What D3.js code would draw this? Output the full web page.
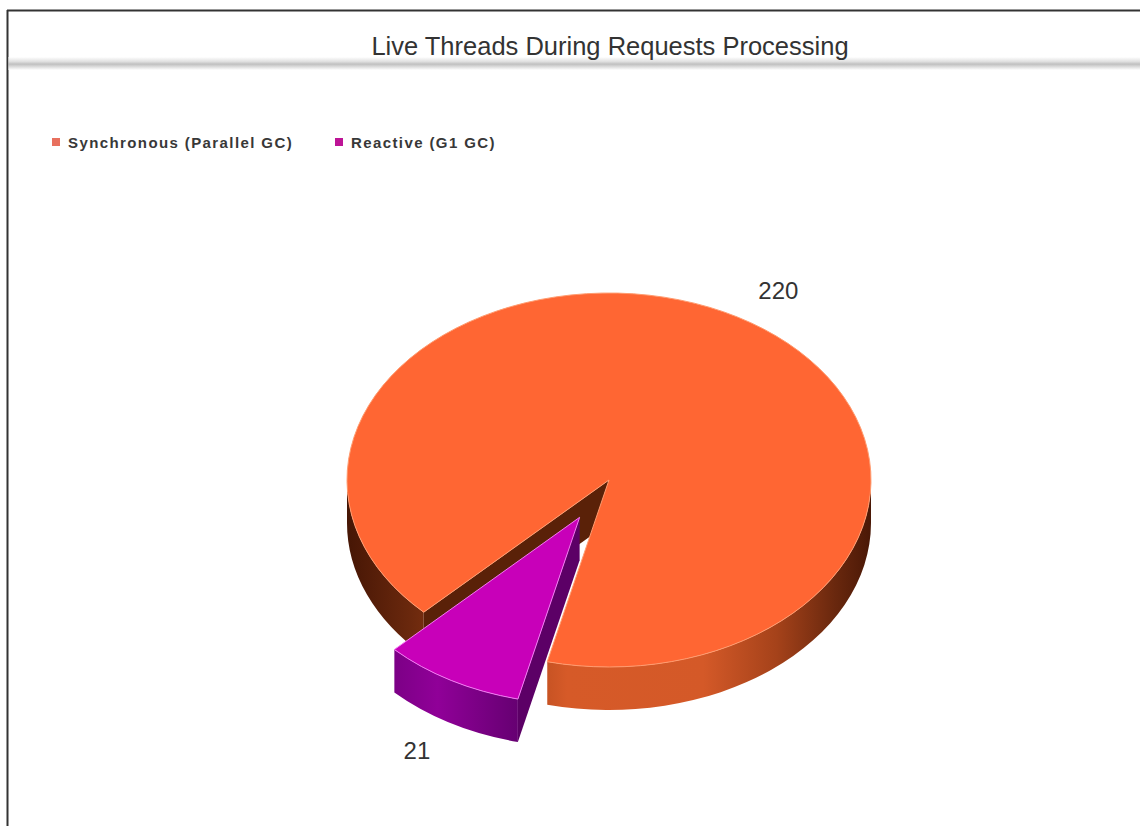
<!DOCTYPE html>
<html>
<head>
<meta charset="utf-8">
<script src="https://cdn.jsdelivr.net/npm/d3@7"></script>
<style>
  html, body { margin: 0; padding: 0; background: #fff; }
  svg { display: block; }
</style>
</head>
<body>
<svg id="chart" width="1140" height="826"></svg>
<script>
// ---- data ----
const chartTitle = "Live Threads During Requests Processing";
const categories = ["Synchronous (Parallel GC)", "Reactive (G1 GC)"];
const values = [220, 21];
const valueLabels = ["220", "21"];

// ---- styling ----
const topColors = ["#ff6633", "#c800b9"];
const edgeColors = ["#ff9c70", "#f27af2"];
const wallColors = ["#5a2108", "#5c0066"];
const legendColors = ["#e8705e", "#bd1496"];
const explodeBy = [0, 60];           // radial offset of each slice (unflattened px)

const W = 1140, H = 826;
const cx = 609, cy = 480, rx = 262, ry = 187, depth = 43;
const k = ry / rx;
const labelR = 305;
const deg = Math.PI / 180;

const svg = d3.select("#chart");
const defs = svg.append("defs");

// frame
svg.append("line").attr("x1", 7.5).attr("y1", 10).attr("x2", 7.5).attr("y2", H)
  .attr("stroke", "#333").attr("stroke-width", 2);
svg.append("line").attr("x1", 7).attr("y1", 10.5).attr("x2", W).attr("y2", 10.5)
  .attr("stroke", "#333").attr("stroke-width", 2);

// shaded rule under the title
const rule = defs.append("linearGradient").attr("id", "rule")
  .attr("x1", 0).attr("y1", 0).attr("x2", 0).attr("y2", 1);
[[0, "#ffffff"], [0.35, "#e0e0e0"], [0.55, "#c0c0c0"], [0.75, "#dcdcdc"], [1, "#ffffff"]]
  .forEach(([o, c]) => rule.append("stop").attr("offset", o).attr("stop-color", c));
svg.append("rect").attr("x", 8.5).attr("y", 57).attr("width", W - 8.5).attr("height", 13)
  .attr("fill", "url(#rule)");

// title
svg.append("text")
  .attr("x", 610).attr("y", 55)
  .attr("text-anchor", "middle")
  .attr("font-family", "Liberation Sans, Arial, sans-serif")
  .attr("font-size", 25.5)
  .attr("fill", "#333")
  .text(chartTitle);

// legend
const legendX = [52, 335];
const legend = svg.append("g");
categories.forEach((c, i) => {
  legend.append("rect").attr("x", legendX[i]).attr("y", 138).attr("width", 8).attr("height", 8)
    .attr("fill", legendColors[i]);
  legend.append("text").attr("x", legendX[i] + 16).attr("y", 142)
    .attr("dominant-baseline", "central")
    .attr("font-family", "Liberation Sans, Arial, sans-serif")
    .attr("font-weight", "bold")
    .attr("font-size", 15)
    .attr("letter-spacing", 1.4)
    .attr("fill", "#383838")
    .text(c);
});

// side shading gradients
const sideOrange = defs.append("linearGradient").attr("id", "side0")
  .attr("gradientUnits", "userSpaceOnUse")
  .attr("x1", cx - rx).attr("y1", 0).attr("x2", cx + rx).attr("y2", 0);
[[0, "#461605"], [0.12, "#6a280d"], [0.3, "#a8441a"], [0.42, "#d65a28"], [0.68, "#d45928"],
 [0.82, "#a5421a"], [0.93, "#6a280e"], [1, "#4a1806"]]
  .forEach(([o, c]) => sideOrange.append("stop").attr("offset", o).attr("stop-color", c));
const sideMagenta = defs.append("linearGradient").attr("id", "side1")
  .attr("x1", 0).attr("y1", 0).attr("x2", 1).attr("y2", 0);
[[0, "#7c0086"], [0.35, "#900098"], [1, "#660072"]]
  .forEach(([o, c]) => sideMagenta.append("stop").attr("offset", o).attr("stop-color", c));

// ---- 3D pie ----
const pie = d3.pie().sort(null).value(d => d)
  .startAngle(225 * deg).endAngle(585 * deg);
const arcs = pie(values);

// point on the (flattened) rim for a d3 pie angle, 0 = 12 o'clock, clockwise
const pt = (a, r, ox, oy, dz = 0) => [ox + r * Math.sin(a), oy - r * Math.cos(a) * k + dz];

function topPath(a0, a1, ox, oy) {
  const p0 = pt(a0, rx, ox, oy), p1 = pt(a1, rx, ox, oy);
  const large = (a1 - a0) > Math.PI ? 1 : 0;
  return `M${ox},${oy}L${p0}A${rx},${ry} 0 ${large} 1 ${p1}Z`;
}
function sidePath(s, e, ox, oy) {
  const t0 = pt(s, rx, ox, oy), t1 = pt(e, rx, ox, oy);
  const b0 = pt(s, rx, ox, oy, depth), b1 = pt(e, rx, ox, oy, depth);
  return `M${t0}A${rx},${ry} 0 0 1 ${t1}L${b1}A${rx},${ry} 0 0 0 ${b0}Z`;
}
function wallPath(a, ox, oy) {
  const t = pt(a, rx, ox, oy), b = pt(a, rx, ox, oy, depth);
  return `M${ox},${oy}L${t}L${b}L${ox},${oy + depth}Z`;
}
// visible (front) parts of the rim: where the rim faces the viewer
function frontParts(a0, a1) {
  const parts = [];
  for (let n = -1; n <= 2; n++) {
    const lo = Math.max(a0, (90 + 360 * n) * deg), hi = Math.min(a1, (270 + 360 * n) * deg);
    if (hi > lo) parts.push([lo, hi]);
  }
  return parts;
}

const slices = arcs.map((d, i) => {
  const mid = (d.startAngle + d.endAngle) / 2;
  const [ox, oy] = pt(mid, explodeBy[i], cx, cy);
  return { d, i, mid, ox, oy };
}).sort((a, b) => (-Math.cos(a.mid)) - (-Math.cos(b.mid)));

const pieG = svg.append("g");
slices.forEach(s => {
  const { d, i, ox, oy } = s;
  const g = pieG.append("g");
  // walls at the slice cuts, only when they face the viewer
  if (Math.sin(d.startAngle) < 0)
    g.append("path").attr("d", wallPath(d.startAngle, ox, oy)).attr("fill", wallColors[i]);
  if (Math.sin(d.endAngle) > 0)
    g.append("path").attr("d", wallPath(d.endAngle, ox, oy)).attr("fill", wallColors[i]);
  // outer curved side
  const parts = frontParts(d.startAngle, d.endAngle);
  if (i === 1) {
    const xs = parts.flatMap(([lo, hi]) => [pt(lo, rx, ox, oy)[0], pt(hi, rx, ox, oy)[0]]);
    sideMagenta.attr("gradientUnits", "userSpaceOnUse")
      .attr("x1", d3.min(xs)).attr("x2", d3.max(xs));
  }
  parts.forEach(([lo, hi]) => {
    g.append("path").attr("d", sidePath(lo, hi, ox, oy))
      .attr("fill", `url(#side${i})`);
  });
  // top face
  g.append("path").attr("d", topPath(d.startAngle, d.endAngle, ox, oy))
    .attr("fill", topColors[i])
    .attr("stroke", edgeColors[i]).attr("stroke-width", 1).attr("stroke-linejoin", "round");
});

// value labels
arcs.forEach((d, i) => {
  const mid = (d.startAngle + d.endAngle) / 2;
  const [ox, oy] = pt(mid, explodeBy[i], cx, cy);
  const front = -Math.cos(mid) > 0;
  const [lx, ly] = pt(mid, labelR, ox, oy, front ? depth : 0);
  svg.append("text")
    .attr("x", lx).attr("y", ly)
    .attr("text-anchor", Math.sin(mid) >= 0 ? "start" : "end")
    .attr("dominant-baseline", "central")
    .attr("font-family", "Liberation Sans, Arial, sans-serif")
    .attr("font-size", 24)
    .attr("fill", "#333")
    .text(valueLabels[i]);
});
</script>
</body>
</html>
